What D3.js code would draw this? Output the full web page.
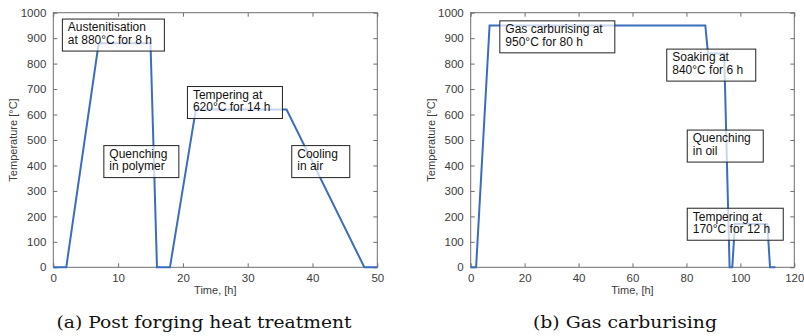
<!DOCTYPE html>
<html><head><meta charset="utf-8">
<script src="https://cdn.jsdelivr.net/npm/d3@7"></script>
<style>
body{margin:0;background:#fff;}
svg{display:block;}
</style></head>
<body>
<svg id="chart" width="804" height="336"></svg>
<script>
// ---- Data ----
const timeA = [0, 2, 7, 15, 16, 18, 22, 36, 48, 50];
const tempA = [0, 0, 880, 880, 0, 0, 620, 620, 0, 0];
const timeB = [0, 2, 7, 87, 88, 94, 96, 97, 98, 110, 111, 113];
const tempB = [0, 0, 950, 950, 840, 840, 0, 0, 170, 170, 0, 0];
const yTicks = [0, 100, 200, 300, 400, 500, 600, 700, 800, 900, 1000];
const xTicksA = [0, 10, 20, 30, 40, 50];
const xTicksB = [0, 20, 40, 60, 80, 100, 120];
const labelsA = [
  {lines: ["Austenitisation", "at 880°C for 8 h"], x: 1.4, y: 975, w: 102},
  {lines: ["Quenching", "in polymer"], x: 7.8, y: 478, w: 75},
  {lines: ["Tempering at", "620°C for 14 h"], x: 20.7, y: 710, w: 95},
  {lines: ["Cooling", "in air"], x: 36.8, y: 478, w: 58}
];
const labelsB = [
  {lines: ["Gas carburising at", "950°C for 80 h"], x: 10.8, y: 968, w: 115},
  {lines: ["Soaking at", "840°C for 6 h"], x: 72.7, y: 857, w: 89},
  {lines: ["Quenching", "in oil"], x: 80.3, y: 539, w: 76},
  {lines: ["Tempering at", "170°C for 12 h"], x: 80.3, y: 232, w: 96}
];
const captions = ["(a) Post forging heat treatment", "(b) Gas carburising"];

const svg = d3.select("#chart");
const axisColor = "#6e6e6e";
const textColor = "#3c3c3c";
const lineColor = "#3b6dbf";

function panel(opt) {
  const {x0, x1, y0, y1, xMax, xTicks, time, temp, labels, caption, capX, capW} = opt;
  const x = d3.scaleLinear().domain([0, xMax]).range([x0, x1]);
  const y = d3.scaleLinear().domain([0, 1000]).range([y1, y0]);
  const g = svg.append("g");

  g.append("rect").attr("x", x0).attr("y", y0).attr("width", x1 - x0).attr("height", y1 - y0)
    .attr("fill", "none").attr("stroke", axisColor).attr("stroke-width", 1);

  const styleAxis = sel => {
    sel.select(".domain").remove();
    sel.selectAll(".tick line").attr("stroke", axisColor);
    sel.selectAll(".tick text").attr("fill", textColor)
      .style("font-family", "'Liberation Sans', Arial, sans-serif").style("font-size", "11.5px");
  };
  g.append("g").attr("transform", `translate(0,${y1})`)
    .call(d3.axisBottom(x).tickValues(xTicks).tickSize(-4).tickPadding(7).tickFormat(d3.format("d")))
    .call(styleAxis);
  g.append("g").attr("transform", `translate(0,${y0})`)
    .call(d3.axisTop(x).tickValues(xTicks).tickSize(-4).tickFormat(""))
    .call(styleAxis);
  g.append("g").attr("transform", `translate(${x0},0)`)
    .call(d3.axisLeft(y).tickValues(yTicks).tickSize(-4).tickPadding(7).tickFormat(d3.format("d")))
    .call(styleAxis);
  g.append("g").attr("transform", `translate(${x1},0)`)
    .call(d3.axisRight(y).tickValues(yTicks).tickSize(-4).tickFormat(""))
    .call(styleAxis);

  const pts = time.map((t, i) => [t, temp[i]]);
  g.append("path").datum(pts)
    .attr("d", d3.line().x(d => x(d[0])).y(d => y(d[1])))
    .attr("fill", "none").attr("stroke", lineColor).attr("stroke-width", 2)
    .attr("stroke-linejoin", "miter");

  labels.forEach(l => {
    const bx = x(l.x), by = y(l.y);
    g.append("rect").attr("x", bx).attr("y", by).attr("width", l.w).attr("height", 32)
      .attr("fill", "#fff").attr("fill-opacity", 0.72).attr("stroke", "#222").attr("stroke-width", 1);
    l.lines.forEach((s, i) => {
      g.append("text").attr("x", bx + 5.5).attr("y", by + 12.3 + i * 12.4)
        .attr("fill", "#111")
        .style("font-family", "'Liberation Sans', Arial, sans-serif").style("font-size", "12px")
        .text(s);
    });
  });

  g.append("text").attr("x", (x0 + x1) / 2).attr("y", 294).attr("text-anchor", "middle")
    .attr("fill", textColor).style("font-family", "'Liberation Sans', Arial, sans-serif").style("font-size", "11px")
    .text("Time, [h]");
  g.append("text").attr("transform", `translate(${x0 - 36},${(y0 + y1) / 2}) rotate(-90)`)
    .attr("text-anchor", "middle")
    .attr("fill", textColor).style("font-family", "'Liberation Sans', Arial, sans-serif").style("font-size", "11px")
    .text("Temperature [°C]");

  g.append("text").attr("x", capX).attr("y", 328).attr("text-anchor", "middle")
    .attr("fill", "#111").style("font-family", "'DejaVu Serif', serif").style("font-size", "17px")
    .attr("textLength", capW).attr("lengthAdjust", "spacingAndGlyphs")
    .text(caption);
}

panel({x0: 53.3, x1: 377.3, y0: 12.7, y1: 267.3, xMax: 50, xTicks: xTicksA,
  time: timeA, temp: tempA, labels: labelsA, caption: captions[0], capX: 204, capW: 295});
panel({x0: 470.7, x1: 794.3, y0: 12.7, y1: 267.3, xMax: 120, xTicks: xTicksB,
  time: timeB, temp: tempB, labels: labelsB, caption: captions[1], capX: 625, capW: 184});
</script>
</body></html>
